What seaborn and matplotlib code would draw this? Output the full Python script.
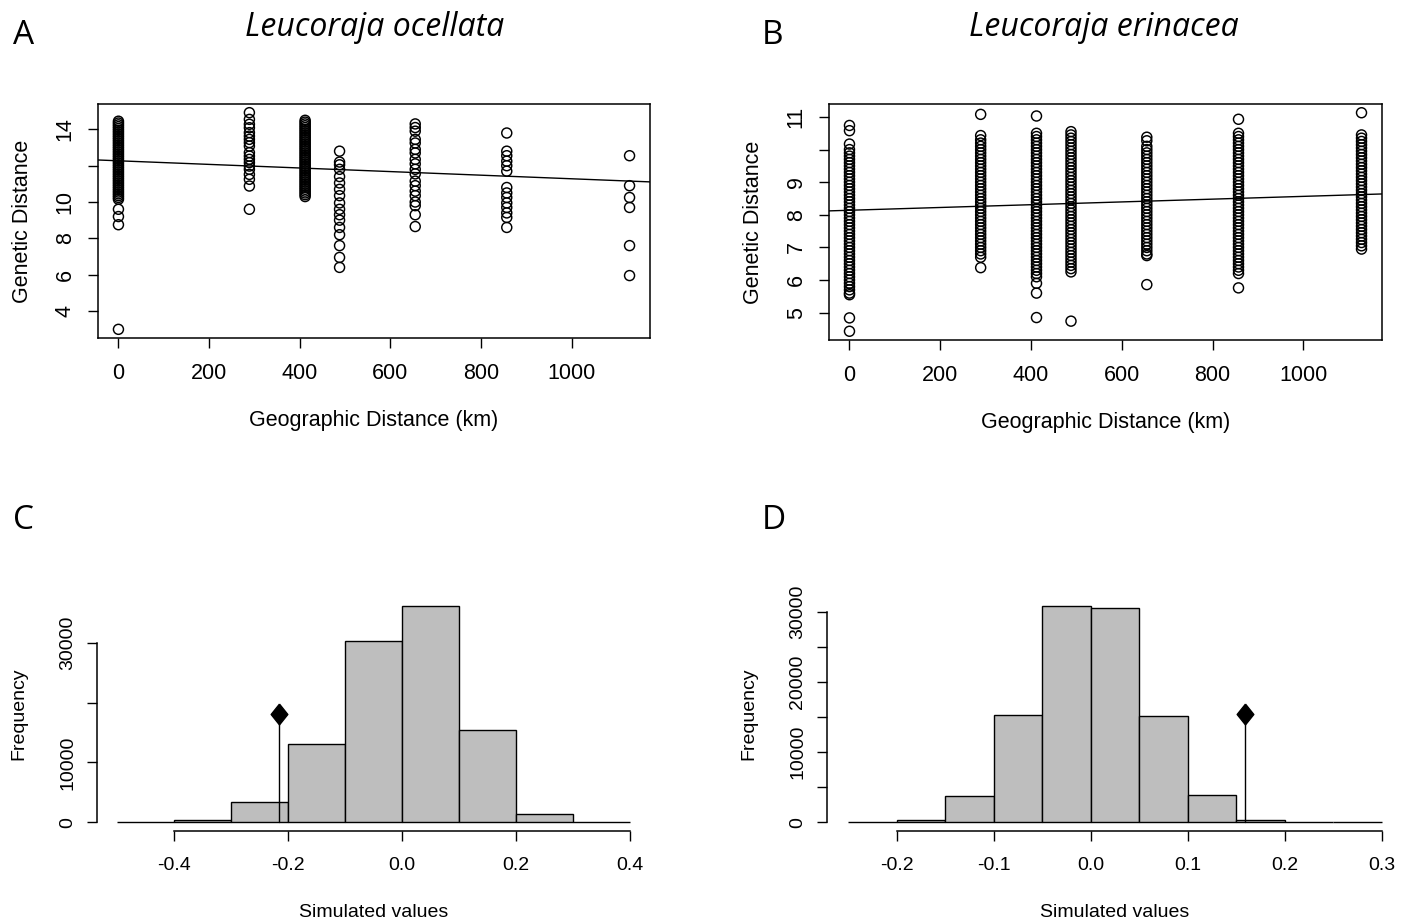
import numpy as np
import pandas as pd
import matplotlib
matplotlib.use("Agg")
import matplotlib.pyplot as plt
import seaborn as sns

# geographic distance (km) of each group of pairwise comparisons
geo_km = [0, 289, 412, 488, 655, 857, 1128]

# Leucoraja ocellata - genetic distance, one list per geographic group
ocel_0 = [14.45, 14.35, 14.25, 14.15, 14.05, 13.95, 13.85, 13.75, 13.65, 13.55,
          13.45, 13.35, 13.25, 13.15, 13.05, 12.95, 12.85, 12.75, 12.65, 12.55,
          12.45, 12.35, 12.25, 12.15, 12.05, 11.95, 11.85, 11.75, 11.65, 11.55,
          11.45, 11.35, 11.25, 11.15, 11.05, 10.95, 10.85, 10.75, 10.65, 10.55,
          10.45, 10.35, 10.25, 10.15, 9.6, 9.2, 8.75, 2.99]
ocel_289 = [14.92, 14.55, 14.28, 14.09, 13.82, 13.63, 13.45, 13.27, 13.08, 12.72,
            12.53, 12.35, 12.17, 11.98, 11.8, 11.52, 11.25, 10.88, 9.6]
ocel_412 = [14.5, 14.4, 14.3, 14.2, 14.1, 14.0, 13.9, 13.8, 13.7, 13.6, 13.5, 13.4,
            13.3, 13.2, 13.1, 13.0, 12.9, 12.8, 12.7, 12.6, 12.5, 12.4, 12.3, 12.2,
            12.1, 12.0, 11.9, 11.8, 11.7, 11.6, 11.5, 11.4, 11.3, 11.2, 11.1, 11.0,
            10.9, 10.8, 10.7, 10.6, 10.5, 10.4, 10.3]
ocel_488 = [12.8, 12.2, 12.05, 11.8, 11.4, 11.05, 10.7, 10.35, 9.95, 9.6, 9.3, 9.0,
            8.6, 8.2, 7.6, 6.95, 6.4]
ocel_655 = [14.3, 14.1, 13.9, 13.45, 13.25, 12.9, 12.7, 12.35, 12.1, 11.8, 11.55,
            11.15, 10.9, 10.6, 10.35, 10.0, 9.8, 9.3, 8.65]
ocel_857 = [13.8, 12.8, 12.55, 12.25, 12.0, 11.7, 10.8, 10.5, 10.25, 9.95, 9.7,
            9.4, 9.15, 8.6]
ocel_1128 = [12.55, 10.9, 10.25, 9.7, 7.6, 5.95]

# Leucoraja erinacea - genetic distance, one list per geographic group
erin_0 = [10.74, 10.58, 10.17, 10.0, 9.9, 9.8, 9.7, 9.6, 9.5, 9.4, 9.3, 9.2, 9.1,
          9.0, 8.9, 8.8, 8.7, 8.6, 8.5, 8.4, 8.3, 8.2, 8.1, 8.0, 7.9, 7.8, 7.7,
          7.6, 7.5, 7.4, 7.3, 7.2, 7.1, 7.0, 6.9, 6.8, 6.7, 6.6, 6.5, 6.4, 6.3,
          6.2, 6.1, 6.0, 5.9, 5.8, 5.7, 5.6, 5.55, 4.84, 4.43]
erin_289 = [11.08, 10.43, 10.3, 10.2, 10.1, 10.0, 9.9, 9.8, 9.7, 9.6, 9.5, 9.4,
            9.3, 9.2, 9.1, 9.0, 8.9, 8.8, 8.7, 8.6, 8.5, 8.4, 8.3, 8.2, 8.1, 8.0,
            7.9, 7.8, 7.7, 7.6, 7.5, 7.4, 7.3, 7.2, 7.1, 7.0, 6.9, 6.8, 6.7, 6.38]
erin_412 = [11.03, 10.5, 10.4, 10.3, 10.2, 10.1, 10.0, 9.9, 9.8, 9.7, 9.6, 9.5,
            9.4, 9.3, 9.2, 9.1, 9.0, 8.9, 8.8, 8.7, 8.6, 8.5, 8.4, 8.3, 8.2, 8.1,
            8.0, 7.9, 7.8, 7.7, 7.6, 7.5, 7.4, 7.3, 7.2, 7.1, 7.0, 6.9, 6.8, 6.7,
            6.6, 6.5, 6.4, 6.3, 6.2, 6.1, 5.9, 5.6, 4.85]
erin_488 = [10.55, 10.45, 10.35, 10.25, 10.15, 10.05, 9.95, 9.85, 9.75, 9.65, 9.55,
            9.45, 9.35, 9.25, 9.15, 9.05, 8.95, 8.85, 8.75, 8.65, 8.55, 8.45, 8.35,
            8.25, 8.15, 8.05, 7.95, 7.85, 7.75, 7.65, 7.55, 7.45, 7.35, 7.25, 7.15,
            7.05, 6.95, 6.85, 6.75, 6.65, 6.55, 6.45, 6.35, 6.25, 4.74]
erin_655 = [10.38, 10.27, 10.1, 10.0, 9.9, 9.8, 9.7, 9.6, 9.5, 9.4, 9.3, 9.2, 9.1,
            9.0, 8.9, 8.8, 8.7, 8.6, 8.5, 8.4, 8.3, 8.2, 8.1, 8.0, 7.9, 7.8, 7.7,
            7.6, 7.5, 7.4, 7.3, 7.2, 7.1, 7.0, 6.9, 6.8, 6.75, 5.86]
erin_857 = [10.93, 10.5, 10.4, 10.3, 10.2, 10.1, 10.0, 9.9, 9.8, 9.7, 9.6, 9.5,
            9.4, 9.3, 9.2, 9.1, 9.0, 8.9, 8.8, 8.7, 8.6, 8.5, 8.4, 8.3, 8.2, 8.1,
            8.0, 7.9, 7.8, 7.7, 7.6, 7.5, 7.4, 7.3, 7.2, 7.1, 7.0, 6.9, 6.8, 6.7,
            6.6, 6.5, 6.4, 6.3, 6.2, 5.76]
erin_1129 = [11.13, 10.45, 10.35, 10.25, 10.15, 10.05, 9.95, 9.85, 9.75, 9.65,
             9.55, 9.45, 9.35, 9.25, 9.15, 9.05, 8.95, 8.85, 8.75, 8.65, 8.55,
             8.45, 8.35, 8.25, 8.15, 8.05, 7.95, 7.85, 7.75, 7.65, 7.55, 7.45,
             7.35, 7.25, 7.15, 7.05, 6.95]

# fitted regression lines (intercept, slope per km)
ocel_fit = (12.27, -0.00099)
erin_fit = (8.14, 0.000426)

# Mantel test: simulated correlation histograms and observed value
ocel_edges = [-0.5, -0.4, -0.3, -0.2, -0.1, 0.0, 0.1, 0.2, 0.3, 0.4]
ocel_counts = [20, 330, 3480, 13070, 30250, 36200, 15350, 1340, 10]
ocel_obs = -0.216
ocel_obs_height = 18050

erin_edges = [-0.25, -0.2, -0.15, -0.1, -0.05, 0.0, 0.05, 0.1, 0.15, 0.2, 0.25, 0.3]
erin_counts = [30, 400, 3800, 15260, 30860, 30500, 15120, 3830, 400, 40, 5]
erin_obs = 0.159
erin_obs_height = 15400

sns.set_theme(style="ticks")
plt.rcParams["font.family"] = ["Liberation Sans", "DejaVu Sans"]
plt.rcParams.update({"text.color": "black", "axes.labelcolor": "black",
                     "xtick.color": "black", "ytick.color": "black"})

W, H = 1410, 922
fig = plt.figure(figsize=(W / 100, H / 100), dpi=100)


def px_axes(left, top, right, bottom):
    return fig.add_axes([left / W, 1 - bottom / H, (right - left) / W, (bottom - top) / H])


def r_range(lo, hi):
    pad = 0.04 * (hi - lo)
    return lo - pad, hi + pad


def long_table(cols):
    rows = [(x, y) for x, ys in zip(geo_km, cols) for y in ys]
    return pd.DataFrame(rows, columns=["geo", "gen"])


def scatter_panel(ax, df, fit, yticks, ylabels):
    sns.scatterplot(data=df, x="geo", y="gen", ax=ax, marker="o", s=52,
                    facecolor="none", edgecolor="black", linewidth=1.05, legend=False)
    ax.set_xlim(*r_range(df["geo"].min(), df["geo"].max()))
    ax.set_ylim(*r_range(df["gen"].min(), df["gen"].max()))
    ax.axline((0, fit[0]), slope=fit[1], color="black", linewidth=1.0)
    ax.set_xticks([0, 200, 400, 600, 800, 1000])
    ax.set_yticks(yticks)
    ax.set_yticklabels(ylabels)
    for s in ax.spines.values():
        s.set_visible(True)
        s.set_linewidth(1.1)
        s.set_color("black")
    ax.tick_params(direction="out", length=7, width=1, labelsize=15.5, pad=11)
    ax.tick_params(axis="y", labelrotation=90, pad=9)
    for lbl in ax.get_yticklabels():
        lbl.set_va("center")
    ax.set_xlabel("Geographic Distance (km)", fontsize=15.5, labelpad=19)
    ax.set_ylabel("Genetic Distance", fontsize=15.5, labelpad=16)


def hist_panel(ax, edges, counts, obs, obs_height, xticks, yticks, ylabels):
    mids = [(a + b) / 2 for a, b in zip(edges[:-1], edges[1:])]
    table = pd.DataFrame({"value": mids, "n": counts})
    sns.histplot(data=table, x="value", weights="n", bins=list(edges), ax=ax, stat="count",
                 color="#bebebe", edgecolor="black", linewidth=1.0, alpha=1)
    ax.set_xlim(*r_range(edges[0], edges[-1]))
    ax.set_ylim(*r_range(0, max(counts)))
    ax.plot([obs, obs], [0, obs_height], color="black", linewidth=1.0)
    diamond = [(0, 1), (0.8, 0), (0, -1), (-0.8, 0), (0, 1)]
    ax.plot([obs], [obs_height], marker=diamond, ms=15, color="black", linestyle="none")
    ax.set_xticks(xticks)
    ax.set_xticklabels([f"{t:.1f}" for t in xticks])
    ax.set_yticks(yticks)
    ax.set_yticklabels(ylabels)
    sns.despine(ax=ax)
    ax.spines["bottom"].set_bounds(xticks[0], xticks[-1])
    ax.spines["left"].set_bounds(yticks[0], yticks[-1])
    for s in ("bottom", "left"):
        ax.spines[s].set_linewidth(1.1)
        ax.spines[s].set_color("black")
    ax.tick_params(direction="out", length=7, width=1, labelsize=14, pad=12)
    ax.tick_params(axis="y", labelrotation=90, pad=8)
    for lbl in ax.get_yticklabels():
        lbl.set_va("center")
    ax.set_xlabel("Simulated values", fontsize=14, labelpad=21)
    ax.set_ylabel("Frequency", fontsize=14, labelpad=23)


axA = px_axes(98, 104, 650, 338)
scatter_panel(axA, long_table([ocel_0, ocel_289, ocel_412, ocel_488, ocel_655, ocel_857, ocel_1128]),
              ocel_fit, [4, 6, 8, 10, 12, 14], ["4", "6", "8", "10", "", "14"])

axB = px_axes(829, 104, 1382, 340)
scatter_panel(axB, long_table([erin_0, erin_289, erin_412, erin_488, erin_655, erin_857, erin_1129]),
              erin_fit, [5, 6, 7, 8, 9, 10, 11], ["5", "6", "7", "8", "9", "", "11"])

axC = px_axes(97, 597, 650, 831)
hist_panel(axC, ocel_edges, ocel_counts, ocel_obs, ocel_obs_height,
           [-0.4, -0.2, 0.0, 0.2, 0.4], [0, 10000, 20000, 30000],
           ["0", "10000", "", "30000"])

axD = px_axes(827, 597, 1403, 831)
hist_panel(axD, erin_edges, erin_counts, erin_obs, erin_obs_height,
           [-0.2, -0.1, 0.0, 0.1, 0.2, 0.3],
           [0, 5000, 10000, 15000, 20000, 25000, 30000],
           ["0", "", "10000", "", "20000", "", "30000"])

# panel letters and species titles
title_font = ["Open Sans", "DejaVu Sans"]
for letter, x, y in [("A", 13, 44), ("B", 762, 44), ("C", 13, 529), ("D", 762, 529)]:
    fig.text(x / W, 1 - y / H, letter, fontsize=24, family=title_font, va="baseline", ha="left")
fig.text(375 / W, 1 - 36 / H, "Leucoraja ocellata", fontsize=23, style="italic",
         family=title_font, va="baseline", ha="center")
fig.text(1104 / W, 1 - 36 / H, "Leucoraja erinacea", fontsize=23, style="italic",
         family=title_font, va="baseline", ha="center")

fig.savefig("out.png", dpi=100)
